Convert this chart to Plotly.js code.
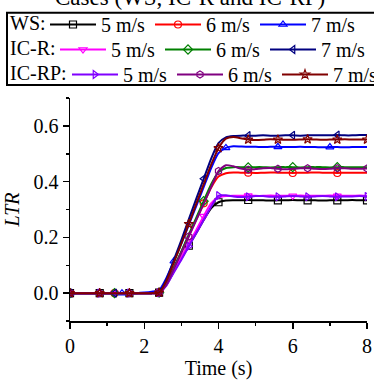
<!DOCTYPE html>
<html><head><meta charset="utf-8">
<script src="https://cdn.plot.ly/plotly-3.0.1.min.js"></script>
<style>html,body{margin:0;padding:0;background:#fff}#chart{width:374px;height:381px}</style>
</head><body><div id="chart"></div>
<script>
const time = [0,0.2,0.4,0.6,0.8,1.0,1.2,1.4,1.6,1.8,2.0,2.2,2.4,2.6,2.8,3.0,3.2,3.4,3.6,3.8,4.0,4.2,4.4,4.6,4.8,5.0,5.2,5.4,5.6,5.8,6.0,6.2,6.4,6.6,6.8,7.0,7.2,7.4,7.6,7.8,8.0];

const ws5 = [0,0,0,0,0,0,0,0,0,0,0,0,0.002,0.030,0.078,0.124,0.170,0.216,0.262,0.304,0.326,0.332,0.333,0.333,0.334,0.333,0.333,0.332,0.333,0.333,0.334,0.333,0.333,0.333,0.332,0.333,0.333,0.333,0.334,0.333,0.333];
const ws6 = [0,0,0,0,0,0,0,0,0,0,0,0,0.002,0.035,0.090,0.148,0.206,0.264,0.322,0.378,0.418,0.430,0.433,0.432,0.432,0.431,0.432,0.433,0.432,0.432,0.431,0.432,0.432,0.433,0.432,0.432,0.431,0.432,0.432,0.432,0.432];
const ws7 = [0,0,0,0,0,0,0,0,0,0,0.002,0.005,0.010,0.055,0.115,0.178,0.245,0.312,0.380,0.448,0.502,0.521,0.527,0.526,0.525,0.525,0.524,0.525,0.525,0.524,0.524,0.525,0.524,0.524,0.523,0.524,0.524,0.523,0.524,0.524,0.524];
const icr5 = [0,0,0,0,0,0,0,0,0,0,0,0,0.002,0.032,0.082,0.130,0.178,0.226,0.276,0.322,0.343,0.348,0.349,0.349,0.350,0.349,0.349,0.350,0.349,0.349,0.349,0.350,0.349,0.349,0.349,0.350,0.349,0.349,0.349,0.350,0.349];
const icr6 = [0,0,0,0,0,0,0,0,0,0,0,0,0.002,0.036,0.092,0.150,0.210,0.270,0.330,0.390,0.434,0.449,0.452,0.452,0.451,0.452,0.452,0.451,0.452,0.452,0.452,0.451,0.452,0.452,0.452,0.451,0.452,0.452,0.452,0.452,0.452];
const icr7 = [0,0,0,0,0,0,0,0,0,0,0,0,0.002,0.050,0.120,0.190,0.265,0.338,0.410,0.482,0.538,0.559,0.564,0.565,0.565,0.565,0.566,0.565,0.565,0.566,0.566,0.565,0.566,0.566,0.566,0.566,0.567,0.566,0.566,0.567,0.567];
const icrp5 = [0,0,0,0,0,0,0,0,0,0,0,0,0.001,0.028,0.075,0.120,0.168,0.215,0.262,0.310,0.350,0.351,0.347,0.345,0.346,0.348,0.348,0.346,0.346,0.347,0.348,0.347,0.346,0.347,0.348,0.347,0.346,0.347,0.347,0.348,0.347];
const icrp6 = [0,0,0,0,0,0,0,0,0,0,0,0,0.001,0.032,0.088,0.145,0.203,0.262,0.320,0.380,0.438,0.459,0.455,0.447,0.443,0.445,0.448,0.449,0.446,0.444,0.446,0.448,0.448,0.446,0.445,0.446,0.448,0.448,0.446,0.446,0.447];
const icrp7 = [0,0,0,0,0,0,0,0,0,0,0,0,0.002,0.045,0.110,0.178,0.248,0.320,0.390,0.460,0.520,0.554,0.560,0.556,0.551,0.549,0.550,0.552,0.551,0.550,0.550,0.551,0.552,0.551,0.550,0.551,0.551,0.552,0.551,0.551,0.551];

const speedLabels = ['5 m/s','6 m/s','7 m/s'];
const groupLabels = ['WS:','IC-R:','IC-RP:'];

const series = [
  {y: ws5,   g: 0, s: 0, color: '#000000', symbol: 'square-open',         every: 4},
  {y: ws6,   g: 0, s: 1, color: '#ff0000', symbol: 'circle-open',         every: 6},
  {y: ws7,   g: 0, s: 2, color: '#0000ff', symbol: 'triangle-up-open',    every: 7},
  {y: icr5,  g: 1, s: 0, color: '#ff00ff', symbol: 'triangle-down-open',  every: 6},
  {y: icr6,  g: 1, s: 1, color: '#008000', symbol: 'diamond-open',        every: 6},
  {y: icr7,  g: 1, s: 2, color: '#000080', symbol: 'triangle-left-open',  every: 6},
  {y: icrp5, g: 2, s: 0, color: '#8000ff', symbol: 'triangle-right-open', every: 4},
  {y: icrp6, g: 2, s: 1, color: '#800080', symbol: 'hexagon-open',        every: 4},
  {y: icrp7, g: 2, s: 2, color: '#800000', symbol: 'star-open',           every: 4}
];

const FONT = 'Liberation Serif, Times New Roman, serif';
const W = 374, H = 381;
const L = 70, R = 7, T = 98, B = 60;
const pw = W - L - R, ph = H - T - B;
function cx(px){ return px / W; }
function cy(py){ return 1 - py / H; }
function paperX(px){ return (px - L) / pw; }
function paperY(py){ return (H - B - py) / ph; }

// legend layout (pixels): row centres and where each row's first sample line starts
const rowY = [24.5, 49.5, 74.5];
const rowLineStart = [50, 60, 72];
const entryStep = 105;

const traces = [];
series.forEach(function(sr){
  traces.push({x: time, y: sr.y, type:'scatter', mode:'lines', showlegend:false,
    line:{color: sr.color, width: 2, shape:'spline', smoothing:0.6}, hoverinfo:'skip'});
  const mx = [], my = [];
  time.forEach(function(t,i){ if(i % sr.every === 0){ mx.push(t); my.push(sr.y[i]); } });
  traces.push({x: mx, y: my, type:'scatter', mode:'markers', showlegend:false,
    marker:{symbol: sr.symbol, size: 7, color: sr.color, line:{color: sr.color, width:1.2}}});
});

const layout = {
  width: W, height: H, autosize:false,
  margin:{l: L, r: R, t: T, b: B, pad: 0},
  paper_bgcolor:'#fff', plot_bgcolor:'#fff',
  font:{family: FONT, size: 20, color:'#000'},
  showlegend: true
};

series.forEach(function(sr, k){
  const lname = k === 0 ? 'legend' : 'legend' + (k + 1);
  traces.push({x:[null], y:[null], type:'scatter', mode:'lines+markers', name: speedLabels[sr.s],
    legend: lname,
    line:{color: sr.color, width: 2}, marker:{symbol: sr.symbol, size: 7, color: sr.color, line:{color: sr.color, width:1.2}}});
  layout[lname] = {x: cx(rowLineStart[sr.g] + sr.s * entryStep - 5), xref:'container',
    y: cy(rowY[sr.g]), yref:'container', xanchor:'left', yanchor:'middle',
    orientation:'h', itemwidth: 46,
    font:{family: FONT, size: 20, color:'#000'}, bgcolor:'rgba(0,0,0,0)', borderwidth:0,
    itemclick:false, itemdoubleclick:false};
});

const axisFont = {family: FONT, size: 20, color: '#000'};
layout.xaxis = {range:[0,8], dtick:2, tick0:0, ticks:'outside', ticklen:6, tickwidth:1.5, tickcolor:'#000',
    minor:{dtick:1, ticks:'outside', ticklen:3, tickwidth:1.5, tickcolor:'#000', showgrid:false},
    showline:true, linecolor:'#000', linewidth:1.5, showgrid:false, zeroline:false,
    tickfont: axisFont, title:{text:'Time (s)', font: axisFont, standoff: 4}};
layout.yaxis = {range:[-0.1,0.7], dtick:0.2, tick0:0, tickformat:'.1f', ticks:'outside', ticklen:6, tickwidth:1.5, tickcolor:'#000',
    minor:{dtick:0.1, ticks:'outside', ticklen:3, tickwidth:1.5, tickcolor:'#000', showgrid:false},
    showline:true, linecolor:'#000', linewidth:1.5, showgrid:false, zeroline:false,
    tickfont: axisFont, title:{text:'LTR', font:{family: FONT, size: 20, color:'#000', style:'italic'}, standoff: 8}};
layout.shapes = [{type:'rect', xref:'paper', yref:'paper', x0: paperX(7), x1: paperX(385), y0: paperY(85), y1: paperY(12.7),
    line:{color:'#000', width:2}, fillcolor:'rgba(0,0,0,0)', layer:'above'}];
layout.annotations = [{text:'Cases (WS, IC-R and IC-RP)', xref:'paper', yref:'paper', x: paperX(190), y: paperY(-3),
    xanchor:'center', yanchor:'middle', showarrow:false, font:{family: FONT, size: 23, color:'#000'}}];
groupLabels.forEach(function(lbl, i){
  layout.annotations.push({text: lbl, xref:'paper', yref:'paper', x: paperX(8), y: paperY(rowY[i] - 1.5),
    xanchor:'left', yanchor:'middle', showarrow:false, font:{family: FONT, size: 20, color:'#000'}});
});

Plotly.newPlot('chart', traces, layout, {staticPlot:true, displayModeBar:false});
</script></body></html>
